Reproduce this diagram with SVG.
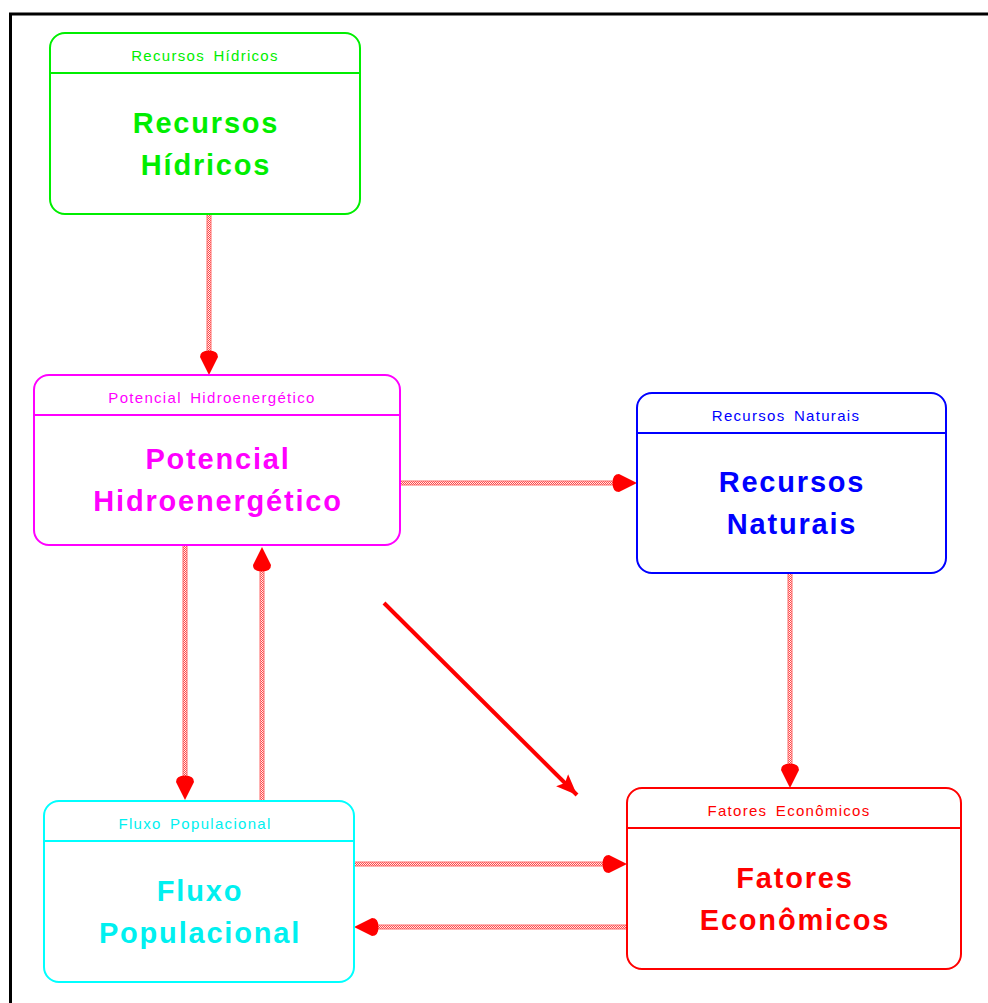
<svg xmlns="http://www.w3.org/2000/svg" width="988" height="1003" viewBox="0 0 988 1003">
  <style>
    .box { fill: #ffffff; stroke-width: 2; }
    .sep { stroke-width: 2; }
    .hdr { font-family: "Liberation Sans", Arial, sans-serif; font-size: 15px; letter-spacing: 1.3px; word-spacing: 3px; text-anchor: middle; }
    .big { font-family: "Liberation Sans", Arial, sans-serif; font-size: 29px; font-weight: bold; letter-spacing: 1.8px; text-anchor: middle; }
    .flow-base { stroke: #ff6a6a; stroke-width: 5; fill: none; }
    .flow-fill { stroke: url(#hatch); stroke-width: 3; fill: none; }
    .direct { stroke: #ff0000; stroke-width: 4; fill: none; }
    .green { stroke: #00ee00; fill: #00ee00; }
    .magenta { stroke: #ff00ff; fill: #ff00ff; }
    .blue { stroke: #0000ff; fill: #0000ff; }
    .cyan { stroke: #00ffff; fill: #00f0f0; }
    .red { stroke: #ff0000; fill: #ff0000; }
    text { stroke: none; }
  </style>
  <defs>
    <!-- checkered fill for the flow connectors -->
    <pattern id="hatch" width="2" height="2" patternUnits="userSpaceOnUse">
      <rect width="2" height="2" fill="#fff0f0"/>
      <rect x="0" y="0" width="1" height="1" fill="#ff4848"/>
      <rect x="1" y="1" width="1" height="1" fill="#ff4848"/>
    </pattern>
    <marker id="flowHead" markerUnits="userSpaceOnUse" markerWidth="30" markerHeight="24" refX="27" refY="12" orient="auto">
      <path d="M27,12 L9,3 Q2.5,3 2.5,12 Q2.5,21 9,21 Z" fill="#ff0000"/>
    </marker>
    <marker id="directHead" markerUnits="userSpaceOnUse" markerWidth="24" markerHeight="20" refX="21" refY="10" orient="auto">
      <path d="M21,10 L0,1.5 L4,10 L0,18.5 Z" fill="#ff0000"/>
    </marker>
  </defs>

  <rect width="988" height="1003" fill="#ffffff"/>
  <!-- page frame -->
  <path d="M10.5,1003 L10.5,14 L988,14" fill="none" stroke="#000000" stroke-width="3"/>

  <g id="connectors">
    <!-- Recursos Hidricos -> Potencial Hidroenergetico -->
    <line class="flow-base" x1="209" y1="215" x2="209" y2="358"/>
    <line class="flow-fill" x1="209" y1="215" x2="209" y2="358"/>
    <path d="M209,215 L209,375" stroke="none" fill="none" marker-end="url(#flowHead)"/>
    <!-- Potencial Hidroenergetico -> Recursos Naturais -->
    <line class="flow-base" x1="400" y1="483" x2="620" y2="483"/>
    <line class="flow-fill" x1="400" y1="483" x2="620" y2="483"/>
    <path d="M400,483 L637,483" stroke="none" fill="none" marker-end="url(#flowHead)"/>
    <!-- Potencial Hidroenergetico -> Fluxo Populacional -->
    <line class="flow-base" x1="185" y1="545" x2="185" y2="783"/>
    <line class="flow-fill" x1="185" y1="545" x2="185" y2="783"/>
    <path d="M185,545 L185,800" stroke="none" fill="none" marker-end="url(#flowHead)"/>
    <!-- Fluxo Populacional -> Potencial Hidroenergetico -->
    <line class="flow-base" x1="262" y1="800" x2="262" y2="564"/>
    <line class="flow-fill" x1="262" y1="800" x2="262" y2="564"/>
    <path d="M262,800 L262,547" stroke="none" fill="none" marker-end="url(#flowHead)"/>
    <!-- Recursos Naturais -> Fatores Economicos -->
    <line class="flow-base" x1="790" y1="573" x2="790" y2="771"/>
    <line class="flow-fill" x1="790" y1="573" x2="790" y2="771"/>
    <path d="M790,573 L790,788" stroke="none" fill="none" marker-end="url(#flowHead)"/>
    <!-- Fluxo Populacional -> Fatores Economicos -->
    <line class="flow-base" x1="354" y1="864" x2="610" y2="864"/>
    <line class="flow-fill" x1="354" y1="864" x2="610" y2="864"/>
    <path d="M354,864 L627,864" stroke="none" fill="none" marker-end="url(#flowHead)"/>
    <!-- Fatores Economicos -> Fluxo Populacional -->
    <line class="flow-base" x1="627" y1="927" x2="371" y2="927"/>
    <line class="flow-fill" x1="627" y1="927" x2="371" y2="927"/>
    <path d="M627,927 L354,927" stroke="none" fill="none" marker-end="url(#flowHead)"/>
    <!-- direct link -->
    <line class="direct" x1="384" y1="603" x2="577" y2="795" marker-end="url(#directHead)"/>
  </g>

  <g id="recursos-hidricos" class="green">
    <rect class="box" x="50" y="33" width="310" height="181" rx="15" ry="15"/>
    <line class="sep" x1="50" y1="73" x2="360" y2="73"/>
    <text class="hdr" x="205" y="61">Recursos Hídricos</text>
    <text class="big" x="206" y="132.5">Recursos</text>
    <text class="big" x="206" y="174.5">Hídricos</text>
  </g>

  <g id="potencial-hidroenergetico" class="magenta">
    <rect class="box" x="34" y="375" width="366" height="170" rx="15" ry="15"/>
    <line class="sep" x1="34" y1="415" x2="400" y2="415"/>
    <text class="hdr" x="212" y="403">Potencial Hidroenergético</text>
    <text class="big" x="218" y="469">Potencial</text>
    <text class="big" x="218" y="511">Hidroenergético</text>
  </g>

  <g id="recursos-naturais" class="blue">
    <rect class="box" x="637" y="393" width="309" height="180" rx="15" ry="15"/>
    <line class="sep" x1="637" y1="433" x2="946" y2="433"/>
    <text class="hdr" x="786" y="421">Recursos Naturais</text>
    <text class="big" x="792" y="492">Recursos</text>
    <text class="big" x="792" y="534">Naturais</text>
  </g>

  <g id="fluxo-populacional" class="cyan">
    <rect class="box" x="44" y="801" width="310" height="181" rx="15" ry="15"/>
    <line class="sep" x1="44" y1="841" x2="354" y2="841"/>
    <text class="hdr" x="195" y="829">Fluxo Populacional</text>
    <text class="big" x="200" y="900.5">Fluxo</text>
    <text class="big" x="200" y="942.5">Populacional</text>
  </g>

  <g id="fatores-economicos" class="red">
    <rect class="box" x="627" y="788" width="334" height="181" rx="15" ry="15"/>
    <line class="sep" x1="627" y1="828" x2="961" y2="828"/>
    <text class="hdr" x="789" y="816">Fatores Econômicos</text>
    <text class="big" x="795" y="887.5">Fatores</text>
    <text class="big" x="795" y="929.5">Econômicos</text>
  </g>
</svg>
